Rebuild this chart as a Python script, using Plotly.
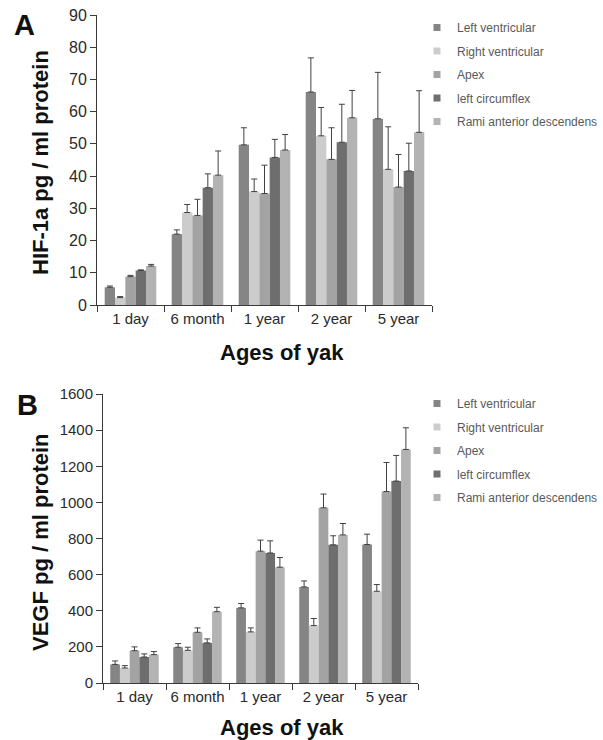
import plotly.graph_objects as go

categories = ["1 day", "6 month", "1 year", "2 year", "5 year"]
series_names = ["Left ventricular", "Right ventricular", "Apex", "left circumflex", "Rami anterior descendens"]
series_colors = ["#858585", "#cccccc", "#a3a3a3", "#6e6e6e", "#b3b3b3"]

# Panel A: HIF-1a (mean, upper error bar end)
hif_lv = [5.5, 22.0, 49.7, 66.1, 57.8]
hif_lv_top = [5.9, 23.3, 55.0, 76.7, 72.2]
hif_rv = [2.3, 28.7, 35.2, 52.5, 42.1]
hif_rv_top = [2.6, 31.2, 39.1, 61.3, 55.3]
hif_apex = [8.8, 27.8, 34.6, 45.2, 36.6]
hif_apex_top = [9.2, 32.8, 43.4, 55.0, 46.7]
hif_lc = [10.7, 36.4, 45.8, 50.5, 41.6]
hif_lc_top = [10.9, 40.7, 51.4, 62.3, 50.2]
hif_rami = [12.1, 40.3, 48.1, 58.1, 53.6]
hif_rami_top = [12.6, 47.8, 52.9, 66.6, 66.5]

# Panel B: VEGF (mean, upper error bar end)
vegf_lv = [103, 198, 416, 532, 767]
vegf_lv_top = [122, 218, 440, 565, 824]
vegf_rv = [83, 181, 283, 318, 508]
vegf_rv_top = [96, 198, 305, 357, 545]
vegf_apex = [179, 281, 730, 970, 1060]
vegf_apex_top = [200, 305, 791, 1046, 1221]
vegf_lc = [144, 222, 720, 765, 1118]
vegf_lc_top = [161, 244, 787, 815, 1260]
vegf_rami = [157, 395, 641, 820, 1293]
vegf_rami_top = [174, 419, 695, 883, 1413]

hif_vals = [hif_lv, hif_rv, hif_apex, hif_lc, hif_rami]
hif_tops = [hif_lv_top, hif_rv_top, hif_apex_top, hif_lc_top, hif_rami_top]
vegf_vals = [vegf_lv, vegf_rv, vegf_apex, vegf_lc, vegf_rami]
vegf_tops = [vegf_lv_top, vegf_rv_top, vegf_apex_top, vegf_lc_top, vegf_rami_top]

FONT = "Arial, Liberation Sans, sans-serif"
W, H = 603, 740

fig = go.Figure()

def add_panel(vals, tops, xa, ya, legend):
    for i, name in enumerate(series_names):
        err = [t - v for t, v in zip(tops[i], vals[i])]
        fig.add_trace(go.Bar(
            x=categories, y=vals[i], name=name, xaxis=xa, yaxis=ya,
            marker=dict(color=series_colors[i], line=dict(width=0)),
            error_y=dict(type="data", symmetric=False, array=err,
                         arrayminus=[0] * len(err), color="#404040",
                         thickness=1, width=3),
            showlegend=False,
        ))
    for i, name in enumerate(series_names):
        fig.add_trace(go.Scatter(
            x=[None], y=[None], mode="markers", name=name, xaxis=xa, yaxis=ya,
            marker=dict(symbol="square", size=7, color=series_colors[i]),
            legend=legend, legendgroup=legend + str(i), showlegend=True,
        ))

add_panel(hif_vals, hif_tops, "x", "y", "legend")
add_panel(vegf_vals, vegf_tops, "x2", "y2", "legend2")

def px_x(p):
    return p / W

def px_y(p):
    return 1 - p / H

def axis_style(size):
    return dict(showline=True, linecolor="#3a3a3a", linewidth=1,
                ticks="outside", ticklen=6, tickcolor="#3a3a3a",
                showgrid=False, zeroline=False,
                tickfont=dict(family=FONT, size=size, color="#2a2a2a"))

fig.update_layout(
    width=W, height=H,
    margin=dict(l=0, r=0, t=0, b=0, autoexpand=False),
    paper_bgcolor="white", plot_bgcolor="white",
    barmode="group", bargap=0.23, bargroupgap=0,
    font=dict(family=FONT, color="#333333"),
    xaxis=dict(domain=[px_x(97), px_x(432)], anchor="y", type="category",
               tickson="boundaries", tickangle=0, **axis_style(15)),
    yaxis=dict(domain=[px_y(305), px_y(15)], anchor="x", range=[0, 90],
               dtick=10, **axis_style(16)),
    xaxis2=dict(domain=[px_x(103), px_x(418)], anchor="y2", type="category",
                tickson="boundaries", tickangle=0, **axis_style(15)),
    yaxis2=dict(domain=[px_y(683), px_y(394)], anchor="x2", range=[0, 1600],
                dtick=200, **axis_style(15)),
    legend=dict(x=px_x(417), y=px_y(13), xanchor="left", yanchor="top",
                font=dict(family=FONT, size=12, color="#595959"),
                bgcolor="rgba(0,0,0,0)", tracegroupgap=4.5, itemwidth=30),
    legend2=dict(x=px_x(417), y=px_y(389), xanchor="left", yanchor="top",
                 font=dict(family=FONT, size=12, color="#595959"),
                 bgcolor="rgba(0,0,0,0)", tracegroupgap=4.5, itemwidth=30),
    showlegend=True,
)

title_font = dict(family=FONT, size=22, color="#111111")
annotations = [
    dict(text="<b>A</b>", x=px_x(24), y=px_y(25), font=dict(family=FONT, size=29, color="#111111")),
    dict(text="<b>B</b>", x=px_x(27), y=px_y(405), font=dict(family=FONT, size=29, color="#111111")),
    dict(text="<b>HIF-1a pg / ml protein</b>", x=px_x(41), y=px_y(163), textangle=-90, font=title_font),
    dict(text="<b>VEGF pg / ml protein</b>", x=px_x(40), y=px_y(542), textangle=-90, font=title_font),
    dict(text="<b>Ages of yak</b>", x=px_x(282), y=px_y(352), font=title_font),
    dict(text="<b>Ages of yak</b>", x=px_x(282), y=px_y(727), font=title_font),
]
for a in annotations:
    a.update(xref="paper", yref="paper", showarrow=False, xanchor="center", yanchor="middle")
fig.update_layout(annotations=annotations)

fig.write_html("out.html")
